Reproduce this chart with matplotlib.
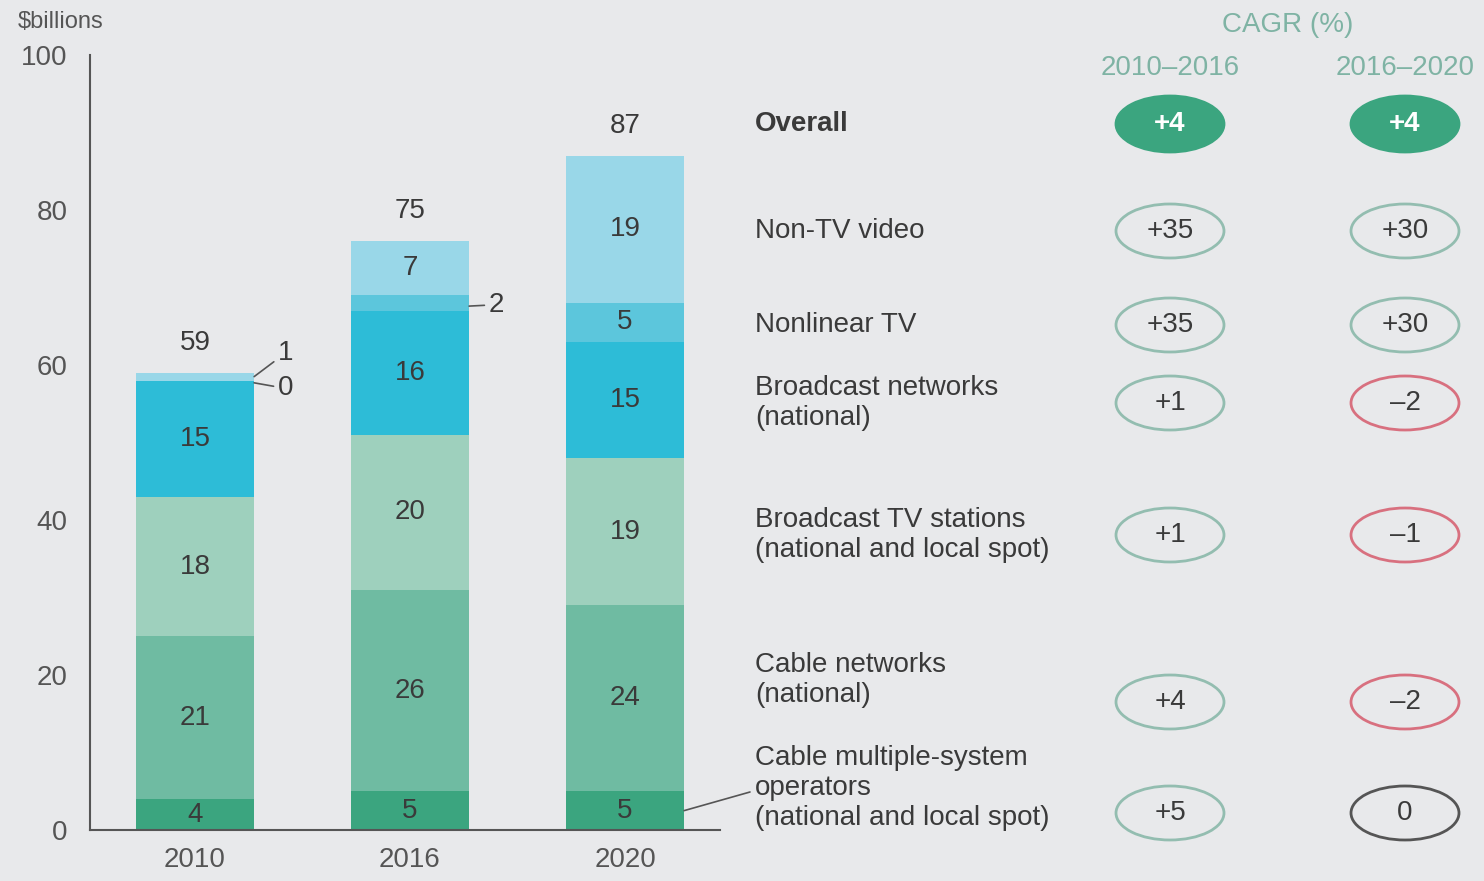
import matplotlib
matplotlib.use("Agg")
import matplotlib.pyplot as plt
from matplotlib.patches import Ellipse

plt.rcParams['font.family'] = ['Liberation Sans', 'DejaVu Sans']

# ---- data ($ billions) ----
years = ["2010", "2016", "2020"]
cable_mso = [4, 5, 5]
cable_networks = [21, 26, 24]
broadcast_tv_stations = [18, 20, 19]
broadcast_networks = [15, 16, 15]
nonlinear_tv = [0, 2, 5]
non_tv_video = [1, 7, 19]
totals = [59, 75, 87]

row_labels = ["Overall", "Non-TV video", "Nonlinear TV",
              "Broadcast networks\n(national)",
              "Broadcast TV stations\n(national and local spot)",
              "Cable networks\n(national)",
              "Cable multiple-system\noperators\n(national and local spot)"]
cagr_2010_2016 = ["+4", "+35", "+35", "+1", "+1", "+4", "+5"]
cagr_2016_2020 = ["+4", "+30", "+30", "\u20132", "\u20131", "\u20132", "0"]

yticks = [0, 20, 40, 60, 80, 100]

# ---- style ----
BG = "#e8e9eb"
TXT = "#3a3a3a"
AXC = "#555555"
seg_colors = ["#3ba57f", "#6fbba2", "#9ed0bd", "#2dbcd7", "#5cc6dc", "#99d7e8"]
GREEN = "#3ba57f"
POS_EDGE = "#93bdb0"
NEG_EDGE = "#d8707f"
ZERO_EDGE = "#555555"
HEAD = "#7fb3a4"
FS = 20

W, H = 1484, 881
fig = plt.figure(figsize=(W / 100, H / 100), dpi=100, facecolor=BG)

# bar axes: x from 90px to 720px, y from 830px (0) to 55px (100)
ax = fig.add_axes([90 / W, (H - 830) / H, 630 / W, 775 / H])
ax.set_facecolor("none")

series = [cable_mso, cable_networks, broadcast_tv_stations,
          broadcast_networks, nonlinear_tv, non_tv_video]
x = list(range(len(years)))
bw = 0.55
bottoms = [0] * len(years)
for vals, col in zip(series, seg_colors):
    ax.bar(x, vals, bw, bottom=bottoms, color=col, edgecolor="none", zorder=2)
    for i, v in enumerate(vals):
        if v >= 3:
            ax.text(i, bottoms[i] + v / 2, str(v), ha="center", va="center",
                    fontsize=FS, color=TXT, zorder=3)
    bottoms = [b + v for b, v in zip(bottoms, vals)]

# totals above bars
for i, t in enumerate(totals):
    ax.annotate(str(t), xy=(i, bottoms[i]), xytext=(0, 12),
                textcoords="offset points", ha="center", va="bottom",
                fontsize=FS, color=TXT)

# small segments labelled outside with leader lines
line_kw = dict(arrowstyle="-", color=AXC, lw=1.2, shrinkA=1, shrinkB=0)
nl_base = [cable_mso[i] + cable_networks[i] + broadcast_tv_stations[i] + broadcast_networks[i]
           for i in range(len(years))]
# 2010 non-TV video
ax.annotate(str(non_tv_video[0]), xy=(0 + bw / 2, nl_base[0] + nonlinear_tv[0] + non_tv_video[0] / 2),
            xytext=(17, 17), textcoords="offset points", ha="left", va="center",
            fontsize=FS, color=TXT, arrowprops=line_kw)
# 2010 nonlinear TV
ax.annotate(str(nonlinear_tv[0]), xy=(0 + bw / 2, nl_base[0] + nonlinear_tv[0] / 2 - 0.3),
            xytext=(17, -4), textcoords="offset points", ha="left", va="center",
            fontsize=FS, color=TXT, arrowprops=line_kw)
# 2016 nonlinear TV
ax.annotate(str(nonlinear_tv[1]), xy=(1 + bw / 2, nl_base[1] + nonlinear_tv[1] / 2 - 0.4),
            xytext=(14, 1), textcoords="offset points", ha="left", va="center",
            fontsize=FS, color=TXT, arrowprops=line_kw)

ax.set_xlim(-105 / 215, 2 + 95 / 215)
ax.set_ylim(0, 100)
ax.set_yticks(yticks)
ax.set_yticklabels([str(v) for v in yticks])
ax.set_xticks(x)
ax.set_xticklabels(years)
ax.tick_params(axis="both", length=0, labelsize=FS, labelcolor=AXC)
ax.tick_params(axis="y", pad=16)
ax.tick_params(axis="x", pad=12)
for s in ["top", "right"]:
    ax.spines[s].set_visible(False)
for s in ["left", "bottom"]:
    ax.spines[s].set_color(AXC)
    ax.spines[s].set_linewidth(1.5)
    ax.spines[s].set_zorder(4)

# overlay in pixel units for the unit label and CAGR table
ov = fig.add_axes([0, 0, 1, 1])
ov.set_xlim(0, W)
ov.set_ylim(H, 0)
ov.axis("off")
ov.patch.set_alpha(0)

ov.text(18, 22, "$billions", ha="left", va="center", fontsize=17, color=AXC)

label_y = [124, 231, 325, 403, 535, 680, 788]
pill_y = [124, 231, 325, 403, 535, 702, 813]
col_x = [1170, 1405]

ov.text((col_x[0] + col_x[1]) / 2, 25, "CAGR (%)", ha="center", va="center",
        fontsize=FS, color=HEAD)
ov.text(col_x[0], 68, "2010\u20132016", ha="center", va="center", fontsize=FS, color=HEAD)
ov.text(col_x[1], 68, "2016\u20132020", ha="center", va="center", fontsize=FS, color=HEAD)

for k, (lab, ly) in enumerate(zip(row_labels, label_y)):
    ov.text(755, ly, lab, ha="left", va="center", fontsize=FS, color=TXT,
            linespacing=1.18, fontweight="bold" if k == 0 else "normal")


def edge_for(s):
    if s.startswith("\u2013"):
        return NEG_EDGE
    if s == "0":
        return ZERO_EDGE
    return POS_EDGE


for k, py in enumerate(pill_y):
    for cx, vals in zip(col_x, [cagr_2010_2016, cagr_2016_2020]):
        s = vals[k]
        if k == 0:
            ov.add_patch(Ellipse((cx, py), 108, 56, facecolor=GREEN, edgecolor=GREEN, lw=2))
            ov.text(cx, py, s, ha="center", va="center", fontsize=FS, color="white",
                    fontweight="bold")
        else:
            ov.add_patch(Ellipse((cx, py), 108, 54, facecolor="none",
                                 edgecolor=edge_for(s), lw=2))
            ov.text(cx, py, s, ha="center", va="center", fontsize=FS, color=TXT)

# leader from the 2020 cable MSO segment to its row label
ov.annotate("", xy=(2 + bw / 2, cable_mso[2] / 2), xycoords=ax.transData,
            xytext=(750, 792), textcoords="data",
            arrowprops=dict(arrowstyle="-", color=AXC, lw=1.2, shrinkA=0, shrinkB=0))

fig.savefig("out.png", dpi=100, facecolor=BG)
